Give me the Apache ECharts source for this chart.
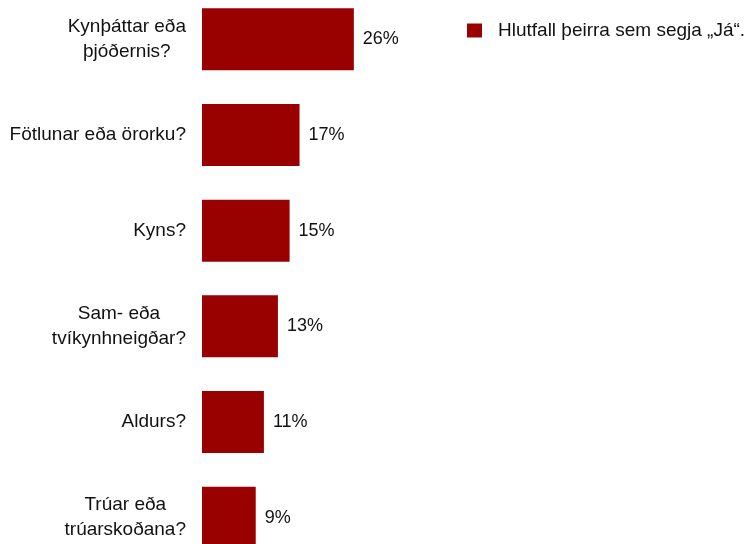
<!DOCTYPE html>
<html>
<head>
<meta charset="utf-8">
<script src="https://cdn.jsdelivr.net/npm/echarts@6/dist/echarts.min.js"></script>
<style>html,body{margin:0;padding:0;background:#fff}#c{width:756px;height:544px}</style>
</head>
<body>
<div id="c"></div>
<script>
const categories = [
  "Kynþáttar eða\nþjóðernis?",
  "Fötlunar eða örorku?",
  "Kyns?",
  "Sam- eða\ntvíkynhneigðar?",
  "Aldurs?",
  "Trúar eða\ntrúarskoðana?"
];
const values = [26.0, 16.7, 15.0, 13.0, 10.6, 9.2];
const seriesName = "Hlutfall þeirra sem segja „Já“.";

const chart = echarts.init(document.getElementById('c'), null, {renderer: 'canvas'});
const font = "'Liberation Sans', Arial, sans-serif";
chart.setOption({
  animation: false,
  backgroundColor: '#ffffff',
  textStyle: {fontFamily: font},
  legend: {
    show: true,
    left: 462, top: 16,
    itemWidth: 15, itemHeight: 14, itemGap: 10,
    icon: 'rect',
    textStyle: {fontSize: 19, color: '#111', fontFamily: font, padding: [0,0,0,11]},
    data: [seriesName]
  },
  grid: {
    left: 202, top: -8.6, width: 175.2, height: 574.2,
    outerBoundsMode: 'none', containLabel: false
  },
  xAxis: {
    type: 'value', min: 0, max: 30, show: false
  },
  yAxis: {
    type: 'category', inverse: true, data: categories,
    axisLine: {show: false}, axisTick: {show: false}, splitLine: {show: false},
    axisLabel: {
      margin: 16, fontSize: 19, color: '#111', fontFamily: font,
      lineHeight: 25, align: 'right',
      formatter: v => v.split('\n').map(s => '{c|' + s + '}').join('\n'),
      rich: {
        c: {align: 'center', fontSize: 19, color: '#111', fontFamily: font, lineHeight: 25}
      }
    }
  },
  series: [{
    name: seriesName,
    type: 'bar',
    data: values,
    barWidth: 62,
    itemStyle: {color: '#990000'},
    label: {
      show: true, position: 'right', distance: 9,
      fontSize: 18, color: '#111', fontFamily: font,
      formatter: p => Math.round(p.value) + '%'
    }
  }]
});
</script>
</body>
</html>
